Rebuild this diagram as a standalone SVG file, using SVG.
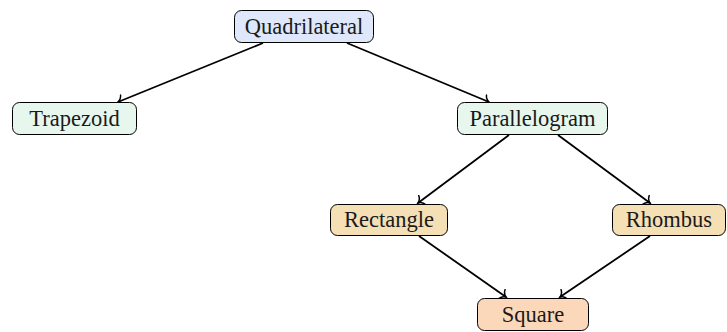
<svg xmlns="http://www.w3.org/2000/svg" width="727" height="332" viewBox="0 0 727 332">
<style>
.box{stroke:#000;stroke-width:1;}
.lbl{font-family:"Liberation Serif","Times New Roman",serif;font-size:22.5px;fill:#1a1a1a;text-anchor:middle;}
.edge{stroke:#000;stroke-width:1.8;fill:none;marker-end:url(#to);}
</style>
<defs>
<marker id="to" viewBox="-6 -6 8 12" markerWidth="8" markerHeight="12" refX="0" refY="0" orient="auto" markerUnits="userSpaceOnUse">
<path d="M-5,-5.5 C-4,-2 -1.5,-0.5 0,0 C-1.5,0.5 -4,2 -5,5.5" fill="none" stroke="#000" stroke-width="1.5" stroke-linecap="round"/>
</marker>
</defs>
<rect width="727" height="332" fill="#fff"/>
<g id="edges">
<line class="edge" x1="263" y1="43" x2="118" y2="102"/>
<line class="edge" x1="347" y1="43" x2="489" y2="102"/>
<line class="edge" x1="509" y1="135" x2="418" y2="203"/>
<line class="edge" x1="558" y1="135" x2="650" y2="203"/>
<line class="edge" x1="419" y1="236" x2="506" y2="297"/>
<line class="edge" x1="650" y1="236" x2="560" y2="297"/>
</g>
<g id="quadrilateral">
<rect class="box" x="234.5" y="10.5" width="139" height="32" rx="7" fill="#dfe7fa"/>
<text class="lbl" x="304" y="33.5">Quadrilateral</text>
</g>
<g id="trapezoid">
<rect class="box" x="12.5" y="102.5" width="124" height="32" rx="7" fill="#e8f7ed"/>
<text class="lbl" x="74.5" y="125.5">Trapezoid</text>
</g>
<g id="parallelogram">
<rect class="box" x="457.5" y="102.5" width="150" height="32" rx="7" fill="#e8f7ed"/>
<text class="lbl" x="532.5" y="125.5">Parallelogram</text>
</g>
<g id="rectangle">
<rect class="box" x="330.5" y="204.5" width="117" height="31" rx="7" fill="#f5dfb5"/>
<text class="lbl" x="389" y="226.5">Rectangle</text>
</g>
<g id="rhombus">
<rect class="box" x="612.5" y="204.5" width="113" height="31" rx="7" fill="#f5dfb5"/>
<text class="lbl" x="669" y="226.5">Rhombus</text>
</g>
<g id="square">
<rect class="box" x="477.5" y="298.5" width="111" height="32" rx="7" fill="#fcd8bb"/>
<text class="lbl" x="533" y="321.5">Square</text>
</g>
</svg>
